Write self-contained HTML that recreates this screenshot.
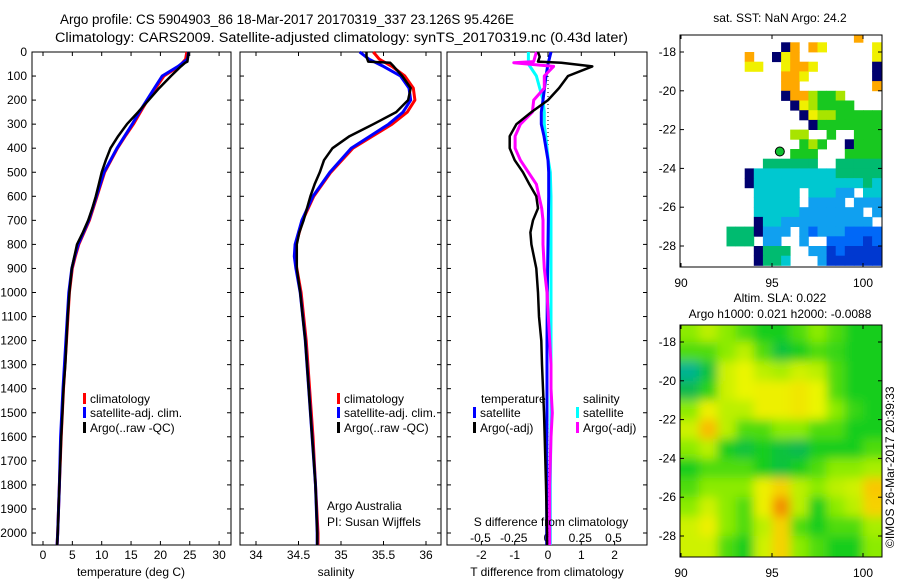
<!DOCTYPE html>
<html><head><meta charset="utf-8"><style>
html,body{margin:0;padding:0;background:#fff;}
svg{display:block;font-family:"Liberation Sans",sans-serif;}
text{fill:#000;}
</style></head><body>
<svg id="fig" width="900" height="580" viewBox="0 0 900 580" xmlns="http://www.w3.org/2000/svg">
<defs>
<clipPath id="clipSst"><rect x="680" y="35" width="202" height="232"/></clipPath>
<clipPath id="clipSla"><rect x="680" y="325" width="202" height="232"/></clipPath>
<filter id="blur" x="-10%" y="-10%" width="120%" height="120%"><feGaussianBlur stdDeviation="5"/></filter>
</defs>
<text x="60" y="24" font-size="13.5" textLength="454" lengthAdjust="spacingAndGlyphs">Argo profile: CS 5904903_86 18-Mar-2017 20170319_337 23.126S 95.426E</text>
<text x="55" y="42" font-size="13.5" textLength="573" lengthAdjust="spacingAndGlyphs">Climatology: CARS2009. Satellite-adjusted climatology: synTS_20170319.nc (0.43d later)</text>
<g id="g"></g>
</svg>
<script>
// ---------- data ----------
const depthTicks=[0,100,200,300,400,500,600,700,800,900,1000,1100,1200,1300,1400,1500,1600,1700,1800,1900,2000];
const tempTicks=[0,5,10,15,20,25,30];
const salTicks=[34,34.5,35,35.5,36];
const salTickLabels=["34","34.5","35","35.5","36"];
const tdiffTicks=[-2,-1,0,1,2];
const sdiffTicks=[-0.5,-0.25,0,0.25,0.5];
const sdiffTickLabels=["-0.5","-0.25","0","0.25","0.5"];

const depthClim=[0,30,60,100,150,200,250,300,350,400,500,600,700,800,850,900,1000,1200,1400,1600,1800,2000,2050];
const tempClim=[24.5,24.3,23.2,20.6,19.2,17.8,16.6,15.4,14.0,12.7,10.5,9.2,7.9,6.1,5.5,5.0,4.5,4.0,3.5,3.1,2.8,2.5,2.4];
const tempSat=[24.8,24.6,23.0,20.3,19.0,17.7,16.4,15.2,13.9,12.6,10.4,9.1,7.8,6.0,5.4,4.9,4.4,3.9,3.4,3.0,2.8,2.5,2.4];
const salClim=[35.38,35.45,35.6,35.75,35.85,35.87,35.78,35.6,35.37,35.14,34.88,34.68,34.55,34.47,34.46,34.48,34.53,34.59,34.63,34.67,34.7,34.73,34.73];
const salSat=[35.22,35.33,35.5,35.7,35.8,35.82,35.73,35.56,35.34,35.12,34.87,34.67,34.54,34.46,34.45,34.47,34.52,34.58,34.62,34.66,34.7,34.72,34.72];

const depthArgo=[0,20,40,45,60,100,150,200,250,300,350,400,450,500,550,600,650,700,750,800,900,1000,1100,1200,1300,1400,1500,1600,1800,2000,2050];
const tempArgo=[24.8,24.7,24.6,24.2,23.5,21.8,19.8,18.0,16.2,14.3,12.8,11.5,10.7,10.0,9.5,9.0,8.4,7.7,6.8,5.8,4.9,4.5,4.2,4.0,3.8,3.5,3.3,3.1,2.8,2.5,2.4];
const salArgo=[35.3,35.3,35.32,35.58,35.62,35.72,35.82,35.79,35.65,35.38,35.1,34.9,34.8,34.75,34.69,34.64,34.6,34.56,34.51,34.48,34.48,34.52,34.55,34.58,34.6,34.62,34.64,34.66,34.7,34.72,34.72];
const tdiffArgo=[-0.3,-0.25,-0.3,0.4,1.33,0.6,0.33,0.0,-0.5,-0.95,-1.15,-1.15,-1.0,-0.75,-0.56,-0.35,-0.3,-0.45,-0.53,-0.5,-0.35,-0.3,-0.27,-0.2,-0.18,-0.15,-0.12,-0.1,-0.06,-0.03,-0.03];
const sdiffArgo=[-0.08,-0.09,-0.1,-0.25,0.05,-0.02,-0.02,-0.1,-0.11,-0.2,-0.24,-0.24,-0.2,-0.14,-0.08,-0.06,-0.04,-0.03,-0.03,-0.03,-0.02,0.0,0.01,0.02,0.03,0.03,0.04,0.03,0.02,0.02,0.02];
const depthSatDiff=[0,50,100,200,250,300,350,400,450,500,600,800,1000,1200,1500,1800,2000,2050];
const tdiffSat=[0.09,0.0,-0.06,-0.15,-0.2,-0.2,-0.12,-0.06,0.0,0.02,0.02,0.0,-0.02,-0.03,-0.03,-0.04,-0.04,-0.04];
const sdiffSat=[-0.14,-0.14,-0.08,-0.03,-0.02,-0.02,-0.01,0.0,0.01,0.025,0.03,0.03,0.03,0.03,0.03,0.025,0.025,0.025];

// SST map: rows lat -17..-29 step 0.5, cols lon 90..101 step 0.5; '.'=NaN, digit=colour level
const sstRows=[
"...................9..",
"...........09.98.....8",
".......9..089........8",
".......88..8998......0",
"...........998.......0",
"...........99........9",
"...........0997667....",
"............0876666...",
".............087766666",
"..............06666666",
"............77..6..666",
".............676..0666",
"............666...6666",
".........555555..55555",
".......044444444455555",
".......044444444444454",
"........44444.44433.44",
"........44444.3333.333",
"........444443333333.3",
"........0443333333333.",
".....5550333.323332222",
".....555.33..3..222212",
"........0555..33121111",
"........0554...3111111"];
const sstColors=["#00006e","#0038d0","#0068f8","#10a0f0","#00c8d0","#00bb70","#18c820","#a8e400","#f0f000","#ffa800"];
const argoLon=95.43, argoLat=-23.13;
const mapLonTicks=[90,95,100];
const mapLatTicks=[-18,-20,-22,-24,-26,-28];

// SLA map: rows lat -17..-29 step 1, cols lon 90..101 step 1
const slaGrid=[
[0.55,0.6,0.55,0.5,0.45,0.45,0.5,0.55,0.5,0.45,0.45],
[0.5,0.5,0.55,0.6,0.5,0.42,0.45,0.5,0.48,0.45,0.45],
[0.35,0.42,0.62,0.65,0.6,0.58,0.62,0.6,0.5,0.45,0.45],
[0.4,0.47,0.62,0.65,0.66,0.66,0.68,0.65,0.5,0.45,0.45],
[0.55,0.66,0.6,0.6,0.66,0.66,0.68,0.65,0.55,0.48,0.45],
[0.62,0.76,0.6,0.5,0.5,0.55,0.55,0.5,0.5,0.45,0.45],
[0.55,0.6,0.45,0.42,0.45,0.42,0.4,0.45,0.45,0.45,0.5],
[0.45,0.5,0.5,0.5,0.45,0.42,0.45,0.5,0.55,0.55,0.58],
[0.5,0.55,0.55,0.55,0.66,0.72,0.6,0.55,0.6,0.62,0.74],
[0.55,0.62,0.55,0.5,0.66,0.82,0.6,0.45,0.55,0.6,0.72],
[0.62,0.66,0.55,0.5,0.6,0.72,0.5,0.45,0.5,0.5,0.58],
[0.62,0.62,0.5,0.45,0.62,0.72,0.55,0.5,0.45,0.45,0.55]];

// ---------- helpers ----------
const NS="http://www.w3.org/2000/svg";
const root=document.getElementById('g');
function mk(tag,attrs,parent){const e=document.createElementNS(NS,tag);for(const k in attrs)e.setAttribute(k,attrs[k]);(parent||root).appendChild(e);return e;}
const Y0=52, Y1=545, yD=d=>Y0+d*(533-52)/2000;
const xT=t=>43+t*5.87;
const xS=s=>256+(s-34)*85;
const xTD=v=>548+v*33.3;
const xSD=v=>547+v*133;

function frame(x0,x1,name){
  const r=mk('rect',{x:x0,y:Y0,width:x1-x0,height:Y1-Y0,fill:'none',stroke:'#000','stroke-width':1});
  
  
  for(const d of depthTicks){mk('line',{x1:x0,x2:x0+4,y1:yD(d),y2:yD(d),stroke:'#000'});mk('line',{x1:x1,x2:x1-4,y1:yD(d),y2:yD(d),stroke:'#000'});}
}
function xticks(vals,labels,fx,ylab,name){
  vals.forEach((v,i)=>{const x=fx(v);
    mk('line',{x1:x,x2:x,y1:Y0,y2:Y0+4,stroke:'#000'});
    mk('line',{x1:x,x2:x,y1:Y1,y2:Y1-4,stroke:'#000'});
    const t=mk('text',{x:x,y:ylab,'font-size':12,'text-anchor':'middle'});
    
    
    t.textContent=labels[i];});
}
function line(xs,ds,fx,color,name,w){
  const p=xs.map((v,i)=>(i?'L':'M')+fx(v).toFixed(1)+','+yD(ds[i]).toFixed(1)).join('');
  const e=mk('path',{d:p,fill:'none',stroke:color,'stroke-width':w||3,'stroke-linejoin':'round'});
  
  
}
function label(x,y,txt,name,opts){
  const t=mk('text',Object.assign({x:x,y:y,'font-size':12},opts||{}));
  
  
  t.textContent=txt;return t;
}
function legend(x,y,color,txt,name){
  mk('rect',{x:x,y:y-10,width:3,height:11,fill:color});
  label(x+7,y,txt,name);
}

depthTicks.forEach(d=>{label(27,yD(d)+4,String(d),'depth-tick-label',{'text-anchor':'end'});});

// panel 1 temperature
frame(32,231,'temperature-panel');
xticks(tempTicks,tempTicks.map(String),xT,559,'temperature-tick-label');
line(tempClim,depthClim,xT,'#ff0000','temperature-climatology-line');
line(tempSat,depthClim,xT,'#0000ff','temperature-satellite-line');
line(tempArgo,depthArgo,xT,'#000000','temperature-argo-line',2.5);
label(131,576,'temperature (deg C)','temperature-axis-title',{'text-anchor':'middle'});
legend(83,403,'#ff0000','climatology','legend-climatology');
legend(83,417,'#0000ff','satellite-adj. clim.','legend-satellite-adj');
legend(83,432,'#000000','Argo(..raw -QC)','legend-argo');

// panel 2 salinity
frame(240,441,'salinity-panel');
xticks(salTicks,salTickLabels,xS,559,'salinity-tick-label');
line(salClim,depthClim,xS,'#ff0000','salinity-climatology-line');
line(salSat,depthClim,xS,'#0000ff','salinity-satellite-line');
line(salArgo,depthArgo,xS,'#000000','salinity-argo-line',2.5);
label(336,576,'salinity','salinity-axis-title',{'text-anchor':'middle'});
legend(337,403,'#ff0000','climatology','legend-climatology');
legend(337,417,'#0000ff','satellite-adj. clim.','legend-satellite-adj');
legend(337,432,'#000000','Argo(..raw -QC)','legend-argo');
label(327,510,'Argo Australia','argo-australia-label');
label(327,526,'PI: Susan Wijffels','pi-label');

// panel 3 differences
frame(447,647,'difference-panel');
tdiffTicks.forEach(v=>{const x=xTD(v);mk('line',{x1:x,x2:x,y1:Y1,y2:Y1-4,stroke:'#000'});mk('line',{x1:x,x2:x,y1:Y0,y2:Y0+4,stroke:'#000'});
  label(x,559,String(v),'t-diff-tick-label',{'text-anchor':'middle'});});
sdiffTicks.forEach((v,i)=>{label(xSD(v),542,sdiffTickLabels[i],'s-diff-tick-label',{'text-anchor':'middle'});});
const zl=mk('line',{x1:xTD(0),x2:xTD(0),y1:Y0,y2:Y1,stroke:'#000','stroke-dasharray':'1,3'});


line(sdiffSat,depthSatDiff,xSD,'#00ffff','s-diff-satellite-line');
line(tdiffSat,depthSatDiff,xTD,'#0000ff','t-diff-satellite-line');
line(sdiffArgo,depthArgo,xSD,'#ff00ff','s-diff-argo-line');
line(tdiffArgo,depthArgo,xTD,'#000000','t-diff-argo-line',2.5);
label(481,403,'temperature','legend-temperature-heading');
label(583,403,'salinity','legend-salinity-heading');
legend(473,417,'#0000ff','satellite','legend-t-satellite');
legend(473,432,'#000000','Argo(-adj)','legend-t-argo');
legend(576,417,'#00ffff','satellite','legend-s-satellite');
legend(576,432,'#ff00ff','Argo(-adj)','legend-s-argo');
label(551,526,'S difference from climatology','s-diff-axis-title',{'text-anchor':'middle'});
label(547,576,'T difference from climatology','t-diff-axis-title',{'text-anchor':'middle'});

// ---------- maps ----------
const MH=232, PD=19.4;
const mX=lon=>681+(lon-90)*18.2;
function mapAxes(top,latAt,name){
  const r=mk('rect',{x:680,y:top,width:202,height:MH,fill:'none',stroke:'#000'});
  
  
  mapLonTicks.forEach(l=>{const x=mX(l);mk('line',{x1:x,x2:x,y1:top,y2:top+4,stroke:'#000'});mk('line',{x1:x,x2:x,y1:top+MH,y2:top+MH-4,stroke:'#000'});
    label(x,top+252,String(l),'map-lon-tick-label',{'text-anchor':'middle'});});
  mapLatTicks.forEach(l=>{const y=latAt(l);mk('line',{x1:680,x2:684,y1:y,y2:y,stroke:'#000'});mk('line',{x1:882,x2:878,y1:y,y2:y,stroke:'#000'});
    label(676,y+4,String(l),'map-lat-tick-label',{'text-anchor':'end'});});
}
// SST map
const sY=lat=>52+(-18-lat)*PD;
const sstG=mk('g',{'clip-path':'url(#clipSst)'});


sstRows.forEach((row,j)=>{for(let i=0;i<row.length;i++){const c=row[i];if(c==='.')continue;
  const lon=90+0.5*i, lat=-17-0.5*j;
  const cell=mk('rect',{x:mX(lon).toFixed(1),y:sY(lat).toFixed(1),width:(0.5*18.2+0.4).toFixed(1),height:(0.5*PD+0.4).toFixed(1),fill:sstColors[+c]},sstG);
  
  }});
const dot=mk('circle',{cx:mX(argoLon),cy:sY(argoLat),r:4.5,fill:'#10c030',stroke:'#000','stroke-width':1});


mapAxes(35,sY,'sst-map-frame');
label(780,22,'sat. SST: NaN Argo: 24.2','sst-map-title',{'text-anchor':'middle'});

// SLA map
const lY=lat=>342+(-18-lat)*PD;
function cmap(v){
  const st=[[0,[0,0,140]],[0.2,[0,80,255]],[0.3,[0,190,230]],[0.37,[0,175,110]],[0.45,[20,205,30]],[0.55,[140,235,0]],[0.65,[235,245,0]],[0.75,[250,195,0]],[0.85,[240,120,0]],[1,[200,40,0]]];
  for(let k=1;k<st.length;k++){if(v<=st[k][0]){const a=st[k-1],b=st[k],f=(v-a[0])/(b[0]-a[0]);
    return 'rgb('+a[1].map((c,m)=>Math.round(c+(b[1][m]-c)*f)).join(',')+')';}}
  return 'rgb(200,40,0)';
}
const slaClip=mk('g',{'clip-path':'url(#clipSla)'});


const slaG=mk('g',{filter:'url(#blur)'},slaClip);
slaGrid.forEach((row,j)=>row.forEach((v,i)=>{
  const lon=90+i, lat=-17-j;
  let x=mX(lon), w=18.6, y=lY(lat), h=PD+0.4;
  if(i===0){x-=20;w+=20;} if(i===row.length-1){w+=20;}
  if(j===0){y-=20;h+=20;} if(j===slaGrid.length-1){h+=20;}
  const cell=mk('rect',{x:x.toFixed(1),y:y.toFixed(1),width:w.toFixed(1),height:h.toFixed(1),fill:cmap(v)},slaG);
  
  }));
mapAxes(325,lY,'sla-map-frame');
label(780,302,'Altim. SLA: 0.022','sla-map-title',{'text-anchor':'middle'});
label(780,318,'Argo h1000: 0.021 h2000: -0.0088','sla-map-subtitle',{'text-anchor':'middle'});
label(0,0,'©IMOS 26-Mar-2017 20:39:33','copyright-timestamp',{transform:'translate(894,548) rotate(-90)'});
</script>
</body></html>
